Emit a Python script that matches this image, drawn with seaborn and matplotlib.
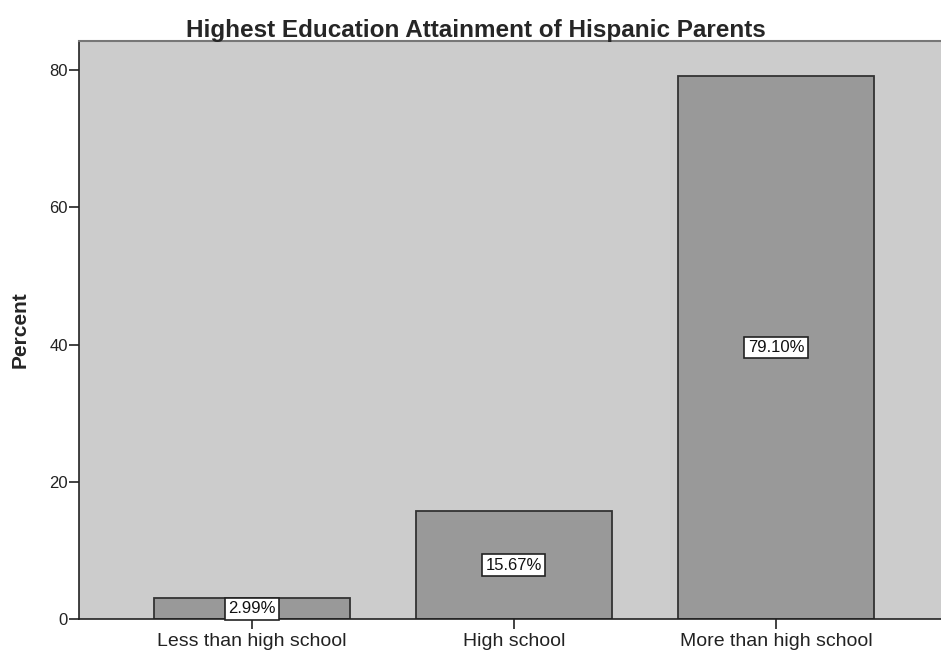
import matplotlib.pyplot as plt
import pandas as pd
import seaborn as sns

# Data
categories = ['Less than high school', 'High school', 'More than high school']
percents = [2.99, 15.67, 79.10]

df = pd.DataFrame({'category': categories, 'percent': percents})

sns.set_style('white')
plt.rcParams['font.family'] = ['Liberation Sans', 'DejaVu Sans']

fig = plt.figure(figsize=(9.41, 6.54), dpi=100)
ax = fig.add_axes([0.084, 0.0535, 0.916, 0.8835])
ax.set_facecolor('#cccccc')

sns.barplot(data=df, x='category', y='percent', ax=ax, color='#999999',
            saturation=1, width=0.75, edgecolor='#333333', linewidth=1.3)

# value labels in white boxes at mid-height
for i, v in enumerate(percents):
    ax.text(i, v / 2, f'{v:.2f}%', ha='center', va='center', fontsize=12,
            color='#111111',
            bbox=dict(facecolor='white', edgecolor='#222222',
                      boxstyle='square,pad=0.2', linewidth=1.2))

ax.set_xlim(-0.66, 2.63)
ax.set_ylim(0, 84.2)
ax.set_yticks([0, 20, 40, 60, 80])

ax.spines['right'].set_visible(False)
ax.spines['top'].set_color('#777777')
ax.spines['top'].set_linewidth(1.5)
for side in ['left', 'bottom']:
    ax.spines[side].set_color('#222222')
    ax.spines[side].set_linewidth(1.2)

ax.tick_params(axis='both', direction='out', length=7, width=1.2, color='#222222',
               labelcolor='#222222', left=True, bottom=True)
ax.tick_params(axis='x', labelsize=14, pad=3)
ax.tick_params(axis='y', labelsize=12, pad=1)

ax.set_xlabel('')
ax.set_ylabel('Percent', fontsize=15, fontweight='bold', labelpad=14)
ax.set_title('Highest Education Attainment of Hispanic Parents', fontsize=17.5,
             fontweight='bold', pad=3, x=0.46)

fig.savefig('out.png', dpi=100)
